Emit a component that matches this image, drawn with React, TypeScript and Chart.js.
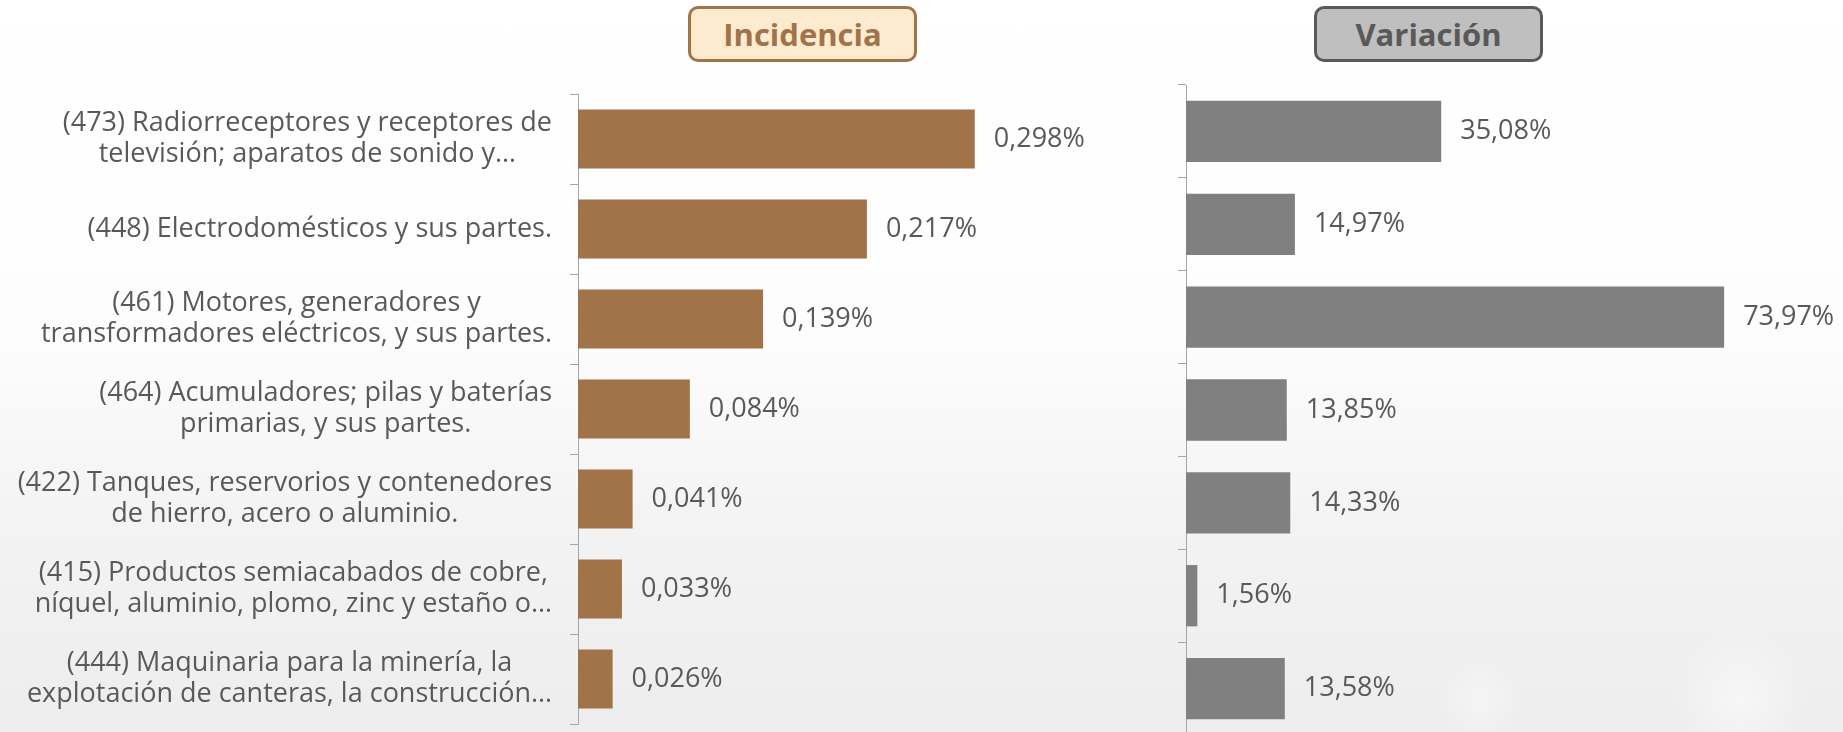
import React, { useEffect, useRef } from "react";
import { Chart, registerables } from "chart.js";

Chart.register(...registerables);

const categories: string[][] = [
  ["(473) Radiorreceptores y receptores de", "televisión; aparatos de sonido y…"],
  ["(448) Electrodomésticos y sus partes."],
  ["(461) Motores, generadores y", "transformadores eléctricos, y sus partes."],
  ["(464) Acumuladores; pilas y baterías", "primarias, y sus partes."],
  ["(422) Tanques, reservorios y contenedores", "de hierro, acero o aluminio."],
  ["(415) Productos semiacabados de cobre,", "níquel, aluminio, plomo, zinc y estaño o…"],
  ["(444) Maquinaria para la minería, la", "explotación de canteras, la construcción…"],
];

const incidencia: number[] = [0.298, 0.217, 0.139, 0.084, 0.041, 0.033, 0.026];
const variacion: number[] = [35.08, 14.97, 73.97, 13.85, 14.33, 1.56, 13.58];

const titles: string[] = ["Incidencia", "Variación"];

const FONT = '"Open Sans", "DejaVu Sans", sans-serif';
const TEXT_COLOR = "#595959";

function valueLabelsPlugin(decimals: number, offset: number) {
  return {
    id: "valueLabels",
    afterDatasetsDraw(chart: any) {
      const ctx = chart.ctx;
      const meta = chart.getDatasetMeta(0);
      const data = chart.data.datasets[0].data as number[];
      ctx.save();
      ctx.font = `27px ${FONT}`;
      ctx.fillStyle = TEXT_COLOR;
      ctx.textAlign = "left";
      ctx.textBaseline = "middle";
      meta.data.forEach((el: any, i: number) => {
        const txt = data[i].toFixed(decimals).replace(".", ",") + "%";
        ctx.fillText(txt, el.x + offset, el.y);
      });
      ctx.restore();
    },
  };
}

function categoryLabelsPlugin(rightEdge: number, lineHeight: number) {
  return {
    id: "categoryLabels",
    afterDraw(chart: any) {
      const ctx = chart.ctx;
      const yScale = chart.scales.y;
      ctx.save();
      ctx.font = `27px ${FONT}`;
      ctx.fillStyle = TEXT_COLOR;
      ctx.textAlign = "center";
      ctx.textBaseline = "middle";
      categories.forEach((lines, i) => {
        const yc = yScale.getPixelForValue(i);
        let w = 0;
        lines.forEach((l) => {
          w = Math.max(w, ctx.measureText(l).width);
        });
        const cx = rightEdge - w / 2;
        lines.forEach((l, j) => {
          const y = yc + (j - (lines.length - 1) / 2) * lineHeight;
          ctx.fillText(l, cx, y);
        });
      });
      ctx.restore();
    },
  };
}

function buildConfig(
  values: number[],
  color: string,
  max: number,
  axisWidth: number,
  padding: { top: number; bottom: number; right: number },
  barPct: number,
  decimals: number,
  withCategoryLabels: boolean
): any {
  const plugins: any[] = [valueLabelsPlugin(decimals, 19)];
  if (withCategoryLabels) plugins.push(categoryLabelsPlugin(axisWidth - 26, 31));
  return {
    type: "bar",
    data: {
      labels: categories.map((c) => c.join(" ")),
      datasets: [
        {
          data: values,
          backgroundColor: color,
          borderWidth: 0,
          barPercentage: barPct,
          categoryPercentage: 1,
        },
      ],
    },
    options: {
      indexAxis: "y",
      animation: false,
      responsive: false,
      maintainAspectRatio: false,
      layout: { padding: { top: padding.top, bottom: padding.bottom, left: 0, right: padding.right } },
      plugins: { legend: { display: false }, tooltip: { enabled: false } },
      scales: {
        x: { display: false, min: 0, max },
        y: {
          afterFit: (s: any) => {
            s.width = axisWidth;
          },
          ticks: { display: false },
          grid: {
            drawOnChartArea: false,
            drawTicks: true,
            tickLength: 8,
            color: "#a6a6a6",
            lineWidth: 1,
          },
          border: { display: true, color: "#a6a6a6", width: 1 },
        },
      },
    },
    plugins,
  };
}

function TitleBox(props: { text: string; left: number; fill: string; border: string; color: string }) {
  return (
    <div
      style={{
        position: "absolute",
        left: props.left,
        top: 6,
        width: 229,
        height: 56,
        boxSizing: "border-box",
        border: `3px solid ${props.border}`,
        borderRadius: 10,
        background: props.fill,
        color: props.color,
        font: `bold 31px ${FONT}`,
        display: "flex",
        alignItems: "center",
        justifyContent: "center",
      }}
    >
      {props.text}
    </div>
  );
}

export default function App() {
  const leftRef = useRef<HTMLCanvasElement>(null);
  const rightRef = useRef<HTMLCanvasElement>(null);

  useEffect(() => {
    document.body.style.margin = "0";
    const left = new Chart(
      leftRef.current as HTMLCanvasElement,
      buildConfig(incidencia, "#A07348", 0.35, 578, { top: 94, bottom: 8, right: 106 }, 0.656, 3, true)
    );
    const right = new Chart(
      rightRef.current as HTMLCanvasElement,
      buildConfig(variacion, "#808080", 80, 86, { top: 85, bottom: 10, right: 75 }, 0.66, 2, false)
    );
    return () => {
      left.destroy();
      right.destroy();
    };
  }, []);

  return (
    <div
      style={{
        position: "relative",
        width: 1843,
        height: 732,
        overflow: "hidden",
        background:
          "radial-gradient(circle at 1740px 700px, rgba(255,255,255,0.5) 0, rgba(255,255,255,0) 70px)," +
          "radial-gradient(circle at 1480px 700px, rgba(255,255,255,0.4) 0, rgba(255,255,255,0) 45px)," +
          "linear-gradient(to bottom, #ffffff 0%, #fdfdfd 45%, #f3f3f3 72%, #ededed 100%)",
      }}
    >
      <TitleBox text={titles[0]} left={688} fill="#FDEBD0" border="#A07348" color="#A07348" />
      <TitleBox text={titles[1]} left={1314} fill="#BFBFBF" border="#595959" color="#595959" />
      <canvas
        ref={leftRef}
        width={1150}
        height={732}
        style={{ position: "absolute", left: 0, top: 0, width: 1150, height: 732 }}
      />
      <canvas
        ref={rightRef}
        width={743}
        height={745}
        style={{ position: "absolute", left: 1100, top: 0, width: 743, height: 745 }}
      />
    </div>
  );
}
